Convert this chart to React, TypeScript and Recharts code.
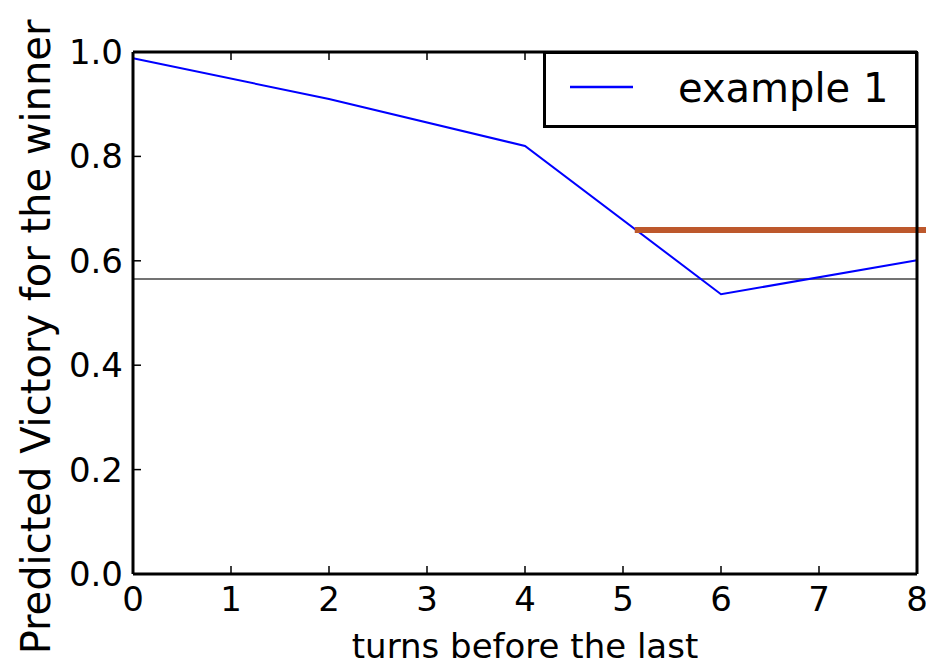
import { LineChart, Line, XAxis, YAxis, ReferenceLine } from 'recharts';

// values
const turns = [0, 2, 4, 6, 8];
const example1 = [0.988, 0.91, 0.82, 0.536, 0.601];
const xTicks = [0, 1, 2, 3, 4, 5, 6, 7, 8];
const yTicks = [0, 0.2, 0.4, 0.6, 0.8, 1.0];
const baseline = 0.565;
const orangeFrom = 5.12;
const orangeTo = 8.1;
const orangeLevel = 0.659;

const data = turns.map((t, i) => ({ turn: t, v: example1[i] }));

const FONT = 'DejaVu Sans';
const TICK_LEN = 8;

function BottomTick(props: any) {
  const { x, payload } = props;
  return (
    <g>
      <line x1={x} x2={x} y1={574} y2={574 - TICK_LEN} stroke="#000" strokeWidth={1.5} />
      <text x={x} y={611} textAnchor="middle" fontFamily={FONT} fontSize={34} fill="#000">
        {payload.value}
      </text>
    </g>
  );
}

function TopTick(props: any) {
  const { x } = props;
  return <line x1={x} x2={x} y1={52} y2={52 + TICK_LEN} stroke="#000" strokeWidth={1.5} />;
}

function LeftTick(props: any) {
  const { y, payload } = props;
  return (
    <g>
      <line x1={133} x2={133 + TICK_LEN} y1={y} y2={y} stroke="#000" strokeWidth={1.5} />
      <text x={123} y={y + 12} textAnchor="end" fontFamily={FONT} fontSize={34} fill="#000">
        {Number(payload.value).toFixed(1)}
      </text>
    </g>
  );
}

function RightTick(props: any) {
  const { y } = props;
  return <line x1={917} x2={917 - TICK_LEN} y1={y} y2={y} stroke="#000" strokeWidth={1.5} />;
}

function LegendBox() {
  return (
    <svg width={375} height={77} style={{ position: 'absolute', left: 543, top: 51 }}>
      <rect x={1.5} y={1.5} width={372} height={74} fill="#fff" stroke="#000" strokeWidth={3} />
      <line x1={27} x2={90} y1={36} y2={36} stroke="#0000ff" strokeWidth={2.5} />
      <text x={135} y={51} fontFamily={FONT} fontSize={40} fill="#000">example 1</text>
    </svg>
  );
}

export default function App() {
  return (
    <div style={{ position: 'fixed', left: 0, top: 0, width: 926, height: 669, background: '#fff' }}>
      <LineChart width={926} height={669} data={data} margin={{ top: 51, right: 8, left: 0, bottom: 0 }}>
        <XAxis
          xAxisId="b" dataKey="turn" type="number" domain={[0, 8]} ticks={xTicks}
          height={95} tickSize={0} tickMargin={0} tick={<BottomTick />}
          axisLine={{ stroke: '#000', strokeWidth: 3 }} tickLine={false}
          label={() => (
            <text x={525} y={658} textAnchor="middle" fontFamily={FONT} fontSize={34} fill="#000">
              turns before the last
            </text>
          )}
        />
        <XAxis
          xAxisId="t" orientation="top" dataKey="turn" type="number" domain={[0, 8]} ticks={xTicks}
          height={1} tickSize={0} tickMargin={0} tick={<TopTick />}
          axisLine={{ stroke: '#000', strokeWidth: 3 }} tickLine={false}
        />
        <YAxis
          yAxisId="l" type="number" domain={[0, 1]} ticks={yTicks} width={133}
          tickSize={0} tickMargin={0} tick={<LeftTick />}
          axisLine={{ stroke: '#000', strokeWidth: 3 }} tickLine={false}
          label={() => (
            <text x={50} y={337} transform="rotate(-90 50 337)" textAnchor="middle"
              fontFamily={FONT} fontSize={40} fill="#000">
              Predicted Victory for the winner
            </text>
          )}
        />
        <YAxis
          yAxisId="r" orientation="right" type="number" domain={[0, 1]} ticks={yTicks} width={1}
          tickSize={0} tickMargin={0} tick={<RightTick />}
          axisLine={{ stroke: '#000', strokeWidth: 3 }} tickLine={false}
        />
        <ReferenceLine xAxisId="b" yAxisId="l" y={baseline} stroke="#444" strokeWidth={1.5} />
        <Line
          xAxisId="b" yAxisId="l" dataKey="v" name="example 1" stroke="#0000ff" strokeWidth={2}
          dot={false} isAnimationActive={false}
        />
        <ReferenceLine
          xAxisId="b" yAxisId="l" ifOverflow="visible"
          segment={[{ x: orangeFrom, y: orangeLevel }, { x: orangeTo, y: orangeLevel }]}
          stroke="#bd582c" strokeWidth={6}
        />
      </LineChart>
      <LegendBox />
    </div>
  );
}
